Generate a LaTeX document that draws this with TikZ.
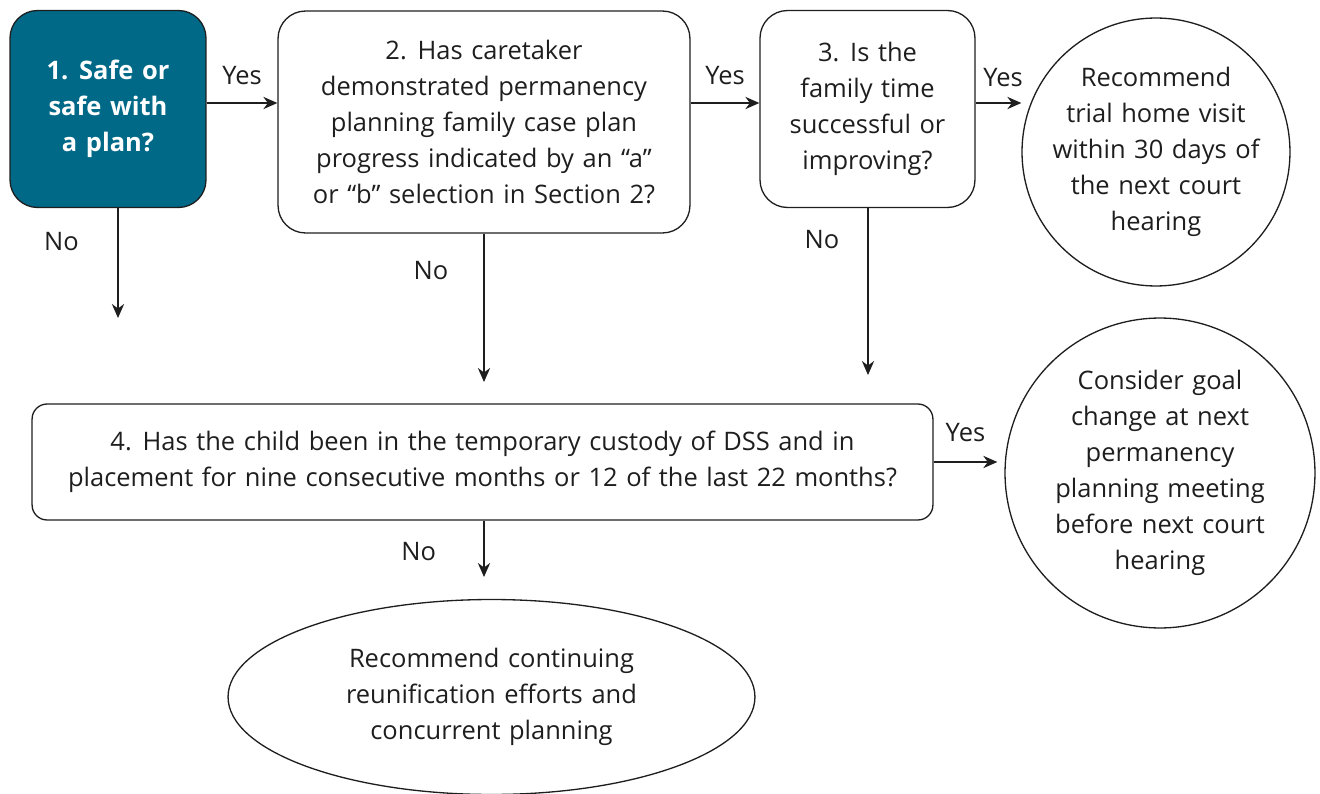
\documentclass[tikz,border=0pt]{standalone}
\usepackage{fontspec}
\setmainfont{Open Sans}[WordSpace=1.3]
\usetikzlibrary{arrows.meta,positioning,shapes.geometric}
\definecolor{stepteal}{RGB}{0,105,136}
\definecolor{ink}{RGB}{30,30,30}

\tikzset{
  qbox/.style={draw=ink, line width=0.75pt, rounded corners=0.55cm, align=center, text=ink, inner sep=0pt},
  endcirc/.style={draw=ink, line width=0.75pt, circle, align=center, text=ink, inner sep=-1cm},
  arr/.style={draw=ink, line width=0.75pt, -{Stealth[length=8pt,width=7pt]}},
  lbl/.style={text=ink, inner sep=2pt}
}

\begin{document}
\begin{tikzpicture}[x=0.02cm, y=-0.02cm, font=\fontsize{14.5}{20.5}\selectfont]
  \useasboundingbox (0,0) rectangle (1320,794);
  % Question boxes (top row)
  \node[qbox, fill=stepteal, text=white, font=\fontsize{14.5}{20.5}\selectfont\bfseries,
        minimum width=3.92cm, minimum height=3.94cm] (safe) at (108,109) {1. Safe or\\safe with\\a plan?};
  \node[qbox, minimum width=8.24cm, minimum height=4.44cm] (care) at (484,122)
    {2. Has caretaker\\demonstrated permanency\\planning family case plan\\progress indicated by an “a”\\or “b” selection in Section 2?};
  \node[qbox, minimum width=4.30cm, minimum height=3.94cm] (famtime) at (867.5,109)
    {3. Is the\\family time\\successful or\\improving?};
  \node[endcirc, minimum size=5.36cm] (trial) at (1156,152)
    {Recommend\\trial home visit\\within 30 days of\\the next court\\hearing};
  % Custody question and outcomes
  \node[qbox, rounded corners=0.3cm, minimum width=18.02cm, minimum height=2.32cm] (custody) at (482.5,462)
    {4. Has the child been in the temporary custody of DSS and in\\placement for nine consecutive months or 12 of the last 22 months?};
  \node[endcirc, minimum size=6.2cm] (goal) at (1160,473)
    {Consider goal\\change at next\\permanency\\planning meeting\\before next court\\hearing};
  \node[draw=ink, line width=0.75pt, ellipse, align=center, text=ink, inner sep=0pt,
        minimum width=10.54cm, minimum height=3.9cm] (reunify) at (491.5,697)
    {Recommend continuing\\reunification efforts and\\concurrent planning};
  % Free ends of the "No" arrows
  \coordinate (rowA) at (0,103);
  \coordinate (rowB) at (0,462);
  \coordinate (safeno) at (118,318);
  \coordinate (careno) at (484,382);
  \coordinate (famno) at (868,375);
  \coordinate (custno) at (484,577);
  % Yes arrows
  \draw[arr] (safe.east |- rowA) -- node[lbl, midway, above=8pt] (yes1) {Yes} (care.west |- rowA);
  \draw[arr] (care.east |- rowA) -- node[lbl, midway, above=8pt] (yes2) {Yes} (famtime.west |- rowA);
  \draw[arr] (famtime.east |- rowA) -- node[lbl, pos=0.6, above=7pt] (yes3) {Yes} (trial.west |- rowA);
  \draw[arr] (custody.east |- rowB) -- node[lbl, midway, above=9pt] (yes4) {Yes} ([xshift=-4pt]goal.west |- rowB);
  % No arrows
  \draw[arr] (safe.south -| safeno) -- node[lbl, pos=0.3, left=20pt] (no1) {No} (safeno);
  \draw[arr] (care.south) -- node[lbl, pos=0.25, left=18pt] (no2) {No} (careno);
  \draw[arr] (famtime.south -| famno) -- node[lbl, pos=0.19, left=14pt] (no3) {No} (famno);
  \draw[arr] (custody.south -| custno) -- node[lbl, pos=0.55, left=25pt] (no4) {No} (custno);
\end{tikzpicture}
\end{document}
